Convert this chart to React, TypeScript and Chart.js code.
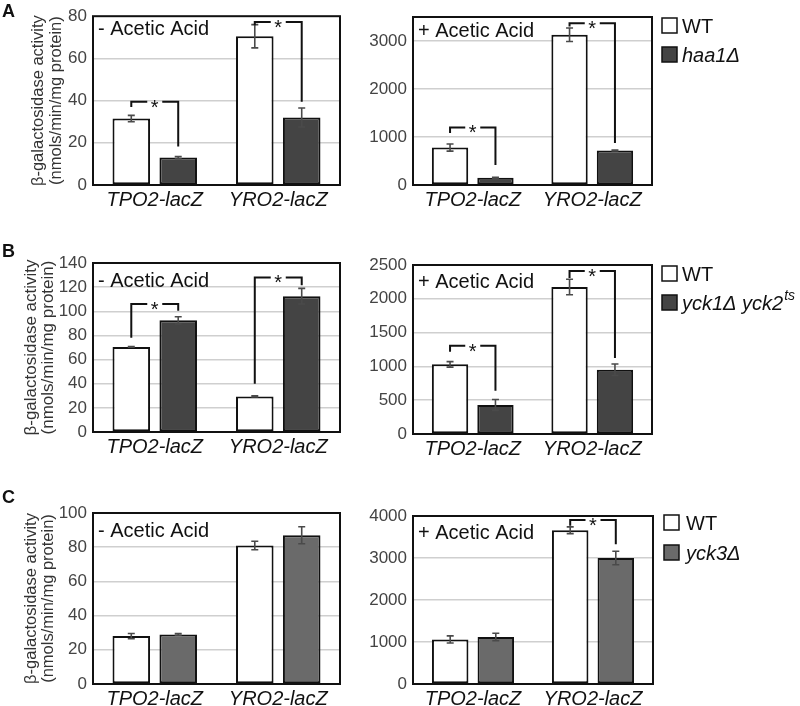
import React, { useEffect, useRef } from 'react';
import { Chart, registerables } from 'chart.js';
Chart.register(...registerables);

// ---------- data ----------
const categories = ['TPO2-lacZ', 'YRO2-lacZ'];

// Panel A (haa1Δ)
const aMinusWT = [31.5, 70.5];
const aMinusWTErr = [1.5, 5.5];
const aMinusMut = [13, 32];
const aMinusMutErr = [0.5, 4.5];
const aPlusWT = [780, 3130];
const aPlusWTErr = [75, 140];
const aPlusMut = [150, 720];
const aPlusMutErr = [10, 10];

// Panel B (yck1Δ yck2ts)
const bMinusWT = [70.5, 29.5];
const bMinusWTErr = [0.3, 0.5];
const bMinusMut = [92.5, 112.5];
const bMinusMutErr = [3, 6.5];
const bPlusWT = [1030, 2175];
const bPlusWTErr = [40, 115];
const bPlusMut = [430, 950];
const bPlusMutErr = [80, 85];

// Panel C (yck3Δ)
const cMinusWT = [28, 81];
const cMinusWTErr = [1.5, 2.5];
const cMinusMut = [29, 87];
const cMinusMutErr = [0.5, 5];
const cPlusWT = [1060, 3660];
const cPlusWTErr = [85, 80];
const cPlusMut = [1120, 3000];
const cPlusMutErr = [90, 160];

// tick labels
const aMinusTicks = [0, 20, 40, 60, 80];
const aPlusTicks = [0, 1000, 2000, 3000];
const bMinusTicks = [0, 20, 40, 60, 80, 100, 120, 140];
const bPlusTicks = [0, 500, 1000, 1500, 2000, 2500];
const cMinusTicks = [0, 20, 40, 60, 80, 100];
const cPlusTicks = [0, 1000, 2000, 3000, 4000];

// significance brackets: [category index, WT leg start, bracket top, mutant leg end]
const aMinusBrackets = [[0, 37, 39.5, 18.3], [1, 75.7, 77.3, 39.4]];
const aPlusBrackets = [[0, 1083, 1198, 417], [1, 3300, 3369, 875]];
const bMinusBrackets = [[0, 78, 106, 100.5], [1, 40, 128, 121.5]];
const bPlusBrackets = [[0, 1217, 1306, 640], [1, 2308, 2411, 1124]];
const cMinusBrackets: number[][] = [];
const cPlusBrackets = [[1, 3769, 3905, 3326]];

const yTitleLines = ['β-galactosidase activity', '(nmols/min/mg protein)'];

const FONT = '"Liberation Sans", Arial, Helvetica, sans-serif';
const DARK = '#444444';
const MID = '#6a6a6a';

type Cfg = {
  cl: number; ct: number; w: number; h: number;
  pl: number; pr: number; pt: number; pb: number;
  max: number; ticks: number[];
  wt: number[]; wtErr: number[]; mut: number[]; mutErr: number[]; mutColor: string;
  brackets: number[][];
  title: string; titleOff: number;
  yTitle?: { x1: number; x2: number; size: number };
  letter?: { text: string; x: number; y: number };
  legend?: { x: number; y1: number; y2: number; tx: number; mut: string; sup?: string; color: string };
};

const panels: Cfg[] = [
  {
    cl: 0, ct: 0, w: 350, h: 218, pl: 93, pr: 340, pt: 16, pb: 185, max: 80, ticks: aMinusTicks,
    wt: aMinusWT, wtErr: aMinusWTErr, mut: aMinusMut, mutErr: aMinusMutErr, mutColor: DARK,
    brackets: aMinusBrackets, title: '- Acetic Acid', titleOff: 19,
    yTitle: { x1: 38, x2: 56, size: 16.5 }, letter: { text: 'A', x: 2, y: 17 },
  },
  {
    cl: 350, ct: 0, w: 450, h: 218, pl: 413, pr: 652, pt: 17, pb: 185, max: 3500, ticks: aPlusTicks,
    wt: aPlusWT, wtErr: aPlusWTErr, mut: aPlusMut, mutErr: aPlusMutErr, mutColor: DARK,
    brackets: aPlusBrackets, title: '+ Acetic Acid', titleOff: 19.5,
    legend: { x: 662, y1: 18, y2: 47, tx: 682, mut: 'haa1Δ', color: DARK },
  },
  {
    cl: 0, ct: 225, w: 350, h: 240, pl: 93, pr: 340, pt: 263, pb: 432, max: 140, ticks: bMinusTicks,
    wt: bMinusWT, wtErr: bMinusWTErr, mut: bMinusMut, mutErr: bMinusMutErr, mutColor: DARK,
    brackets: bMinusBrackets, title: '- Acetic Acid', titleOff: 24,
    yTitle: { x1: 31, x2: 48, size: 17 }, letter: { text: 'B', x: 2, y: 257 },
  },
  {
    cl: 350, ct: 225, w: 450, h: 240, pl: 413, pr: 652, pt: 265, pb: 434, max: 2500, ticks: bPlusTicks,
    wt: bPlusWT, wtErr: bPlusWTErr, mut: bPlusMut, mutErr: bPlusMutErr, mutColor: DARK,
    brackets: bPlusBrackets, title: '+ Acetic Acid', titleOff: 23,
    legend: { x: 662, y1: 266, y2: 295, tx: 682, mut: 'yck1Δ yck2', sup: 'ts', color: DARK },
  },
  {
    cl: 0, ct: 480, w: 350, h: 226, pl: 93, pr: 340, pt: 513, pb: 684, max: 100, ticks: cMinusTicks,
    wt: cMinusWT, wtErr: cMinusWTErr, mut: cMinusMut, mutErr: cMinusMutErr, mutColor: MID,
    brackets: cMinusBrackets, title: '- Acetic Acid', titleOff: 23.5,
    yTitle: { x1: 31, x2: 48, size: 16.5 }, letter: { text: 'C', x: 2, y: 503 },
  },
  {
    cl: 350, ct: 480, w: 450, h: 226, pl: 413, pr: 653, pt: 516, pb: 684, max: 4000, ticks: cPlusTicks,
    wt: cPlusWT, wtErr: cPlusWTErr, mut: cPlusMut, mutErr: cPlusMutErr, mutColor: MID,
    brackets: cPlusBrackets, title: '+ Acetic Acid', titleOff: 22.5,
    legend: { x: 664, y1: 515, y2: 545, tx: 686, mut: 'yck3Δ', color: MID },
  },
];

function makePlugin(cfg: Cfg) {
  return {
    id: 'custom' + cfg.cl + '_' + cfg.ct,
    afterDatasetsDraw(chart: any) {
      const ctx = chart.ctx as CanvasRenderingContext2D;
      const { left, right, top, bottom } = chart.chartArea;
      const ys = chart.scales.y;
      // frame
      ctx.save();
      ctx.strokeStyle = '#111';
      ctx.lineWidth = 2;
      ctx.strokeRect(left, top, right - left, bottom - top);
      ctx.restore();
      // error bars
      const sets = [[cfg.wt, cfg.wtErr], [cfg.mut, cfg.mutErr]];
      ctx.save();
      ctx.strokeStyle = '#4a4a4a';
      ctx.lineWidth = 1.6;
      sets.forEach(([vals, errs], di) => {
        const meta = chart.getDatasetMeta(di);
        meta.data.forEach((el: any, j: number) => {
          const x = el.x;
          const y1 = ys.getPixelForValue(vals[j] + errs[j]);
          const y2 = ys.getPixelForValue(vals[j] - errs[j]);
          ctx.beginPath();
          ctx.moveTo(x, y1); ctx.lineTo(x, y2);
          ctx.moveTo(x - 3.5, y1); ctx.lineTo(x + 3.5, y1);
          ctx.moveTo(x - 3.5, y2); ctx.lineTo(x + 3.5, y2);
          ctx.stroke();
        });
      });
      ctx.restore();
      // brackets
      ctx.save();
      ctx.strokeStyle = '#111';
      ctx.fillStyle = '#111';
      ctx.lineWidth = 2;
      ctx.font = `20px ${FONT}`;
      ctx.textAlign = 'center';
      ctx.textBaseline = 'alphabetic';
      const m0 = chart.getDatasetMeta(0), m1 = chart.getDatasetMeta(1);
      cfg.brackets.forEach(([ci, yl, yt, yr]) => {
        const xl = m0.data[ci].x, xr = m1.data[ci].x;
        const pl = ys.getPixelForValue(yl), pt = ys.getPixelForValue(yt), pr = ys.getPixelForValue(yr);
        const xm = (xl + xr) / 2;
        ctx.beginPath();
        ctx.moveTo(xl, pl); ctx.lineTo(xl, pt); ctx.lineTo(xm - 7.5, pt);
        ctx.moveTo(xm + 7.5, pt); ctx.lineTo(xr, pt); ctx.lineTo(xr, pr);
        ctx.stroke();
        ctx.fillText('*', xm, pt + 12);
      });
      ctx.restore();
      // inner title
      ctx.save();
      ctx.fillStyle = '#111';
      ctx.font = `20px ${FONT}`;
      ctx.textAlign = 'left';
      ctx.textBaseline = 'alphabetic';
      ctx.fillText(cfg.title, left + 5, top + cfg.titleOff);
      ctx.restore();
    },
    afterDraw(chart: any) {
      const ctx = chart.ctx as CanvasRenderingContext2D;
      const { top, bottom } = chart.chartArea;
      if (cfg.yTitle) {
        const yt = cfg.yTitle;
        ctx.save();
        ctx.fillStyle = '#333';
        ctx.font = `${yt.size}px ${FONT}`;
        ctx.textAlign = 'center';
        ctx.textBaseline = 'middle';
        [yt.x1, yt.x2].forEach((xx, i) => {
          ctx.save();
          ctx.translate(xx - cfg.cl, (top + bottom) / 2);
          ctx.rotate(-Math.PI / 2);
          ctx.fillText(yTitleLines[i], 0, 0);
          ctx.restore();
        });
        ctx.restore();
      }
      if (cfg.letter) {
        ctx.save();
        ctx.fillStyle = '#111';
        ctx.font = `bold 18px ${FONT}`;
        ctx.textAlign = 'left';
        ctx.textBaseline = 'alphabetic';
        ctx.fillText(cfg.letter.text, cfg.letter.x - cfg.cl, cfg.letter.y - cfg.ct);
        ctx.restore();
      }
      if (cfg.legend) {
        const lg = cfg.legend;
        const x = lg.x - cfg.cl;
        const s = 15;
        ctx.save();
        ctx.lineWidth = 1.5;
        ctx.strokeStyle = '#111';
        ctx.fillStyle = '#fff';
        ctx.fillRect(x, lg.y1 - cfg.ct, s, s);
        ctx.strokeRect(x, lg.y1 - cfg.ct, s, s);
        ctx.fillStyle = lg.color;
        ctx.fillRect(x, lg.y2 - cfg.ct, s, s);
        ctx.strokeRect(x, lg.y2 - cfg.ct, s, s);
        ctx.fillStyle = '#111';
        ctx.textAlign = 'left';
        ctx.textBaseline = 'alphabetic';
        ctx.font = `20px ${FONT}`;
        const tx = lg.tx - cfg.cl;
        ctx.fillText('WT', tx, lg.y1 - cfg.ct + s);
        ctx.font = `italic 20px ${FONT}`;
        ctx.fillText(lg.mut, tx, lg.y2 - cfg.ct + s);
        if (lg.sup) {
          const wm = ctx.measureText(lg.mut).width;
          ctx.font = `italic 14px ${FONT}`;
          ctx.fillText(lg.sup, tx + wm + 1, lg.y2 - cfg.ct + s - 10);
        }
        ctx.restore();
      }
    },
  };
}

function Panel({ cfg }: { cfg: Cfg }) {
  const ref = useRef<HTMLCanvasElement>(null);
  useEffect(() => {
    if (!ref.current) return;
    const chart = new Chart(ref.current, {
      type: 'bar',
      data: {
        labels: categories,
        datasets: [
          {
            label: 'WT', data: cfg.wt, backgroundColor: '#ffffff', borderColor: '#111',
            borderWidth: 2, borderSkipped: false, categoryPercentage: 0.76, barPercentage: 0.8,
          },
          {
            label: 'mutant', data: cfg.mut, backgroundColor: cfg.mutColor, borderColor: '#111',
            borderWidth: 2, borderSkipped: false, categoryPercentage: 0.76, barPercentage: 0.8,
          },
        ],
      },
      options: {
        animation: false,
        responsive: false,
        maintainAspectRatio: false,
        layout: { padding: { left: 0, top: cfg.pt - cfg.ct, right: cfg.cl + cfg.w - cfg.pr, bottom: 0 } },
        plugins: { legend: { display: false }, tooltip: { enabled: false }, title: { display: false } },
        scales: {
          x: {
            grid: { display: false },
            border: { display: false },
            ticks: {
              color: '#111', font: { family: FONT, size: 20, style: 'italic', lineHeight: 1.2 }, padding: -5,
              maxRotation: 0, autoSkip: false,
            },
            afterFit: (s: any) => { s.height = cfg.ct + cfg.h - cfg.pb; },
          },
          y: {
            type: 'linear',
            min: 0, max: cfg.max,
            ticks: {
              color: '#444', font: { family: FONT, size: 17 }, padding: 6,
              callback: (v: any) => String(v),
            },
            grid: {
              drawTicks: false, lineWidth: 1.5,
              color: (c: any) => (c.tick && (c.tick.value === 0 || c.tick.value >= cfg.max)) ? 'rgba(0,0,0,0)' : '#cfcfcf',
            },
            border: { display: false },
            afterBuildTicks: (axis: any) => {
              axis.ticks = cfg.ticks.map((v) => ({ value: v }));
            },
            afterFit: (s: any) => { s.width = cfg.pl - cfg.cl; },
          },
        },
      },
      plugins: [makePlugin(cfg)],
    } as any);
    return () => chart.destroy();
  }, [cfg]);
  return (
    <canvas
      ref={ref}
      width={cfg.w}
      height={cfg.h}
      style={{ position: 'absolute', left: cfg.cl, top: cfg.ct, width: cfg.w, height: cfg.h }}
    />
  );
}

export default function App() {
  return (
    <div style={{ position: 'absolute', left: 0, top: 0, width: 800, height: 706, background: '#fff', overflow: 'hidden' }}>
      {panels.map((p, i) => <Panel key={i} cfg={p} />)}
    </div>
  );
}
